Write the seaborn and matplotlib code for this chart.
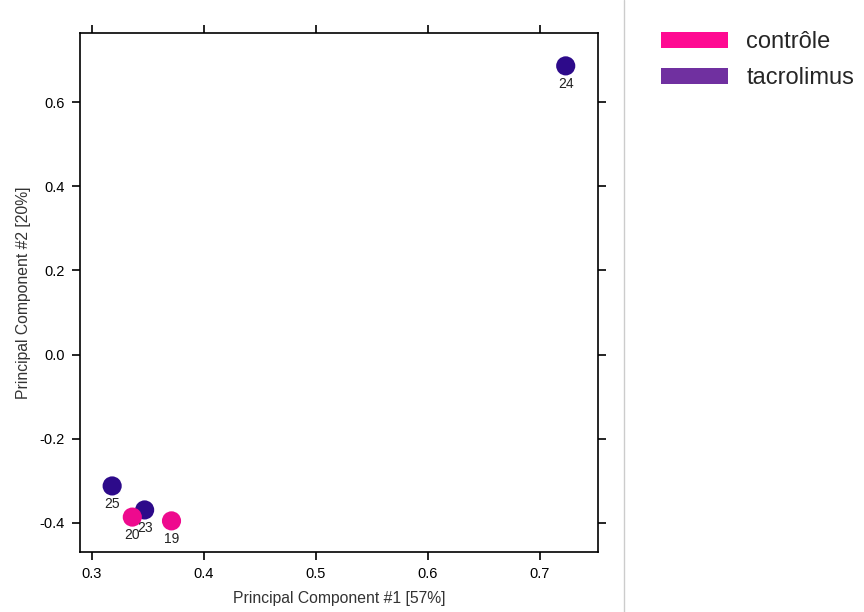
import numpy as np
import pandas as pd
import matplotlib
matplotlib.use('Agg')
import matplotlib.pyplot as plt
import seaborn as sns
from matplotlib.patches import Patch
from matplotlib.lines import Line2D

# Data
samples = ['24', '25', '23', '20', '19']
pc1 = [0.723, 0.318, 0.347, 0.336, 0.371]
pc2 = [0.686, -0.312, -0.369, -0.386, -0.395]
groups = ['tacrolimus', 'tacrolimus', 'tacrolimus', 'contrôle', 'contrôle']

point_colors = {'contrôle': '#EE0A8E', 'tacrolimus': '#2D0A8A'}
legend_colors = {'contrôle': '#FF0A92', 'tacrolimus': '#7030A0'}

df = pd.DataFrame({'sample': samples, 'PC1': pc1, 'PC2': pc2, 'group': groups})

sns.set_style('white')
plt.rcParams['font.family'] = ['Liberation Sans', 'DejaVu Sans']

fig = plt.figure(figsize=(8.64, 6.12), dpi=100)
ax = fig.add_axes([0.0926, 0.098, 0.5995, 0.848])

sns.scatterplot(data=df, x='PC1', y='PC2', hue='group', palette=point_colors,
                s=190, edgecolor='none', legend=False, ax=ax, zorder=3)

for _, r in df.iterrows():
    ax.annotate(r['sample'], (r['PC1'], r['PC2']), xytext=(0, -13),
                textcoords='offset points', ha='center', va='center',
                fontsize=10, color='#222222', zorder=4)

ax.set_xlim(0.2893, 0.7518)
ax.set_ylim(-0.469, 0.764)
ax.set_xticks([0.3, 0.4, 0.5, 0.6, 0.7])
ax.set_yticks([-0.4, -0.2, 0.0, 0.2, 0.4, 0.6])
ax.set_xticklabels(['0.3', '0.4', '0.5', '0.6', '0.7'])
ax.set_yticklabels(['-0.4', '-0.2', '0.0', '0.2', '0.4', '0.6'])
ax.tick_params(direction='out', length=6, width=1.2, top=True, right=True,
               bottom=True, left=True,
               labeltop=False, labelright=False, labelbottom=True, labelleft=True,
               labelsize=10.5, colors='black', pad=5)
for sp in ax.spines.values():
    sp.set_visible(True)
    sp.set_color('black')
    sp.set_linewidth(1.2)
ax.set_xlabel('Principal Component #1 [57%]', fontsize=11.3, color='#333333', labelpad=7)
ax.set_ylabel('Principal Component #2 [20%]', fontsize=11.3, color='#333333', labelpad=6)

# vertical separator line
fig.add_artist(Line2D([624 / 864, 624 / 864], [0, 1], color='#CCCCCC', lw=1))

handles = [Patch(facecolor=legend_colors[g], edgecolor='none') for g in ['contrôle', 'tacrolimus']]
fig.legend(handles, ['contrôle', 'tacrolimus'], loc='upper left',
           bbox_to_anchor=(640 / 864, 1 - 10 / 612), frameon=False, fontsize=17,
           handlelength=2.84, handleheight=0.68, handletextpad=0.76, labelspacing=0.6)

fig.savefig('out.png', dpi=100)
